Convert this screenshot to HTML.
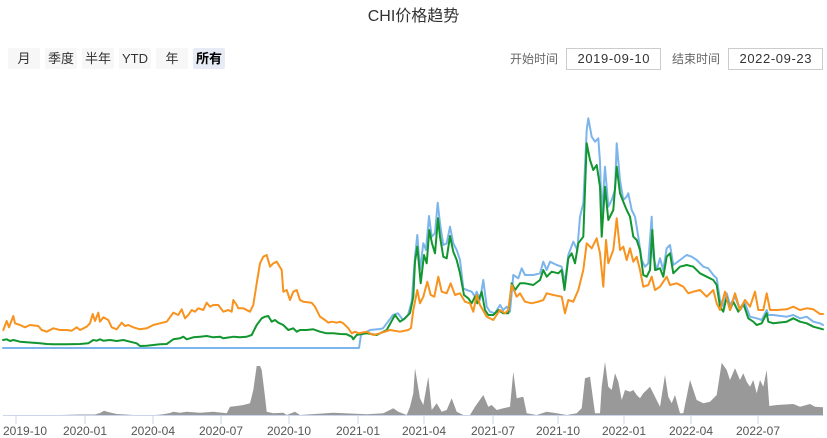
<!DOCTYPE html>
<html><head><meta charset="utf-8"><style>
html,body{margin:0;padding:0;background:#fff;}
body{width:827px;height:438px;overflow:hidden;position:relative;}
svg{position:absolute;left:0;top:0;}
text{font-family:"Liberation Sans","Noto Sans CJK SC",sans-serif;}
</style></head><body>
<svg width="827" height="438" viewBox="0 0 827 438" xmlns="http://www.w3.org/2000/svg">
<text x="413.5" y="21" text-anchor="middle" font-size="16" fill="#333">CHI价格趋势</text>
<g font-size="13" text-anchor="middle" fill="#333">
<rect x="8" y="48" width="32" height="21" rx="2" fill="#f7f7f7"/><text x="24" y="63">月</text>
<rect x="45" y="48" width="32" height="21" rx="2" fill="#f7f7f7"/><text x="61" y="63">季度</text>
<rect x="82" y="48" width="32" height="21" rx="2" fill="#f7f7f7"/><text x="98" y="63">半年</text>
<rect x="119" y="48" width="32" height="21" rx="2" fill="#f7f7f7"/><text x="135" y="63">YTD</text>
<rect x="156" y="48" width="32" height="21" rx="2" fill="#f7f7f7"/><text x="172" y="63">年</text>
<rect x="193" y="48" width="32" height="21" rx="2" fill="#e6ebf5"/><text x="209" y="63" font-weight="bold" fill="#000">所有</text>
</g>
<g font-size="12" fill="#666">
<text x="510" y="63">开始时间</text>
<text x="672" y="63">结束时间</text>
</g>
<rect x="566.5" y="48.5" width="94" height="21" fill="#fff" stroke="#ccc"/>
<rect x="728.5" y="48.5" width="94" height="21" fill="#fff" stroke="#ccc"/>
<g font-size="13" fill="#333" text-anchor="middle">
<text x="613.5" y="63" textLength="72" lengthAdjust="spacing">2019-09-10</text>
<text x="775.5" y="63" textLength="72" lengthAdjust="spacing">2022-09-23</text>
</g>

<path fill="#999" d="M3,415.5 L30,415.3 L60,415 L80,414.5 L95,414.5 L100,413 L104,410.7 L108,412 L116.7,414 L133.3,415 L153.3,415.3 L163.3,414.3 L170,413 L173.3,411.7 L180,412.7 L186.7,411.7 L200,412.7 L213.3,411.7 L226.7,413.3 L230,406.7 L236.7,406 L243.3,405 L250,403.3 L253.3,390 L256.7,366 L260,366 L261.7,370 L265,396.7 L266.7,411.7 L273.3,413.3 L283.3,412.7 L286.7,415 L295,411.7 L300,415 L333.3,412.7 L366.7,414.3 L383.3,413.3 L393.3,408.3 L398.3,411.7 L406.7,415 L410,406.7 L413.3,393.3 L415,368.3 L420,398.3 L423.3,405 L428.3,376.7 L431.7,410 L436.7,403.3 L441.7,411.7 L446.7,410 L451.7,398.3 L456.7,411.7 L463.3,415 L470,415 L475,406.7 L483.3,395 L488.3,406.7 L491.7,405 L496.7,410 L503.3,408.3 L510,406.7 L513.3,371.7 L516.7,398.3 L523.3,396.7 L526.7,413.3 L536.7,415 L546.7,411.7 L556.7,413.3 L566.7,415 L576.7,413.3 L581.7,408.3 L585,378.3 L590,376.7 L595,413.3 L600,413.3 L601.7,386.7 L605,361.7 L608.3,386.7 L611.7,390 L615,373.3 L618.3,381.7 L621.7,400 L625,390 L630,391.7 L633.3,390 L636.7,395 L640,398.3 L643.3,393.3 L646.7,390 L650,386.7 L655,396.7 L660,406.7 L665,375 L668.3,396.7 L671.7,403.3 L675,395 L680,413.3 L683.3,413.3 L690,380 L696.7,400 L703.3,403.3 L710,401.7 L716.7,395 L721.7,362.7 L726.7,370 L730,380 L735,368.3 L740,380 L743.3,373.3 L746.7,381.7 L750,386.7 L753.3,380 L756.7,393.3 L760,380 L763.3,386.7 L766.7,370 L769.3,406 L776.7,405 L793.3,404 L800,406.7 L810,404 L815,406.7 L823,407.3 L823,415.5 Z"/>

<line x1="3" y1="415.5" x2="823" y2="415.5" stroke="#ccd6eb" stroke-width="1"/>
<g stroke="#ccd6eb" stroke-width="1">
<line x1="16" y1="415" x2="16" y2="424"/><line x1="85" y1="415" x2="85" y2="424"/><line x1="153" y1="415" x2="153" y2="424"/><line x1="221" y1="415" x2="221" y2="424"/><line x1="289" y1="415" x2="289" y2="424"/><line x1="358" y1="415" x2="358" y2="424"/><line x1="424" y1="415" x2="424" y2="424"/><line x1="493" y1="415" x2="493" y2="424"/><line x1="558" y1="415" x2="558" y2="424"/><line x1="624" y1="415" x2="624" y2="424"/><line x1="691" y1="415" x2="691" y2="424"/><line x1="758" y1="415" x2="758" y2="424"/>
</g>
<g font-size="12" fill="#555" text-anchor="middle">
<text x="3" y="435" text-anchor="start">2019-10</text>
<text x="85" y="435">2020-01</text>
<text x="153" y="435">2020-04</text>
<text x="221" y="435">2020-07</text>
<text x="289" y="435">2020-10</text>
<text x="358" y="435">2021-01</text>
<text x="424" y="435">2021-04</text>
<text x="493" y="435">2021-07</text>
<text x="558" y="435">2021-10</text>
<text x="624" y="435">2022-01</text>
<text x="691" y="435">2022-04</text>
<text x="758" y="435">2022-07</text>
</g>

<g fill="none" stroke-width="2" stroke-linejoin="round" stroke-linecap="round">
<polyline stroke="#7cb5ec" points="3,348 359,348 361,335 370,330 380,329 383,328.3 393,315 398,313.3 403,320 408,315 411.7,301.7 415,256.7 417.3,235 420,270 423.3,243.3 426,250 429,216 431.7,236.7 435,233.3 437.7,202.7 440,223.3 443.3,245 446.7,243.3 450,226.7 453.3,243.3 456.7,250 460,260 463.3,288.3 466.7,290 471.7,291.7 475,296.7 476.7,291.7 480,300 483.3,280 486.7,306.7 490,311.7 495,313.3 500,305 503.3,310 506.7,306.7 510,311.7 513.3,275 518.3,278.3 521.7,268.3 525,275 533.3,275 540,273.3 543.3,261.7 546.7,270 550,261.7 556.7,265 561.7,266.7 565,283.3 568.3,255 573.3,241.7 577.3,250 580,216.7 583.3,203.3 586.7,130 588.3,118.3 591.7,136.7 595,141.7 598.3,138.3 600,161.7 601.7,216.7 605,166.7 608.3,206.7 611.7,200 615,190 616.7,143.3 620,180 623.3,200 626.7,196.7 628.3,193.3 631.7,210 635,216.7 638.3,236.7 641.7,260 645,266.7 648.3,263.3 651.7,216.7 653.3,256.7 656.7,270 660,258.3 663.3,270 666.7,248.3 670,245 673.3,265 680,260 686.7,255 691.7,256.7 696.7,260 703.3,266.7 708.3,268.3 713.3,275 716.7,278.3 720,300 723.3,306.7 726.7,293.3 730,305 735,296.7 740,310 745,303.3 750,316.7 756.7,318.3 761.7,320 766.7,310 768.3,315 773.3,315 786.7,316.7 793.3,315 800,318.3 806.7,316.7 813.3,321.7 820,323.3 823,325"/>
<polyline stroke="#12962f" points="3,340 6.7,339.3 10,341 13.3,340 20,341.7 26.7,342.3 33.3,342.7 40,343.3 46.7,344 53.3,344.3 66.7,344.3 80,344 88.3,343.3 93.3,340 96.7,340.7 100,339.3 103.3,340.7 110,340 116.7,341 123.3,340 130,341.7 136.7,343.3 140,346 146.7,345.7 153.3,345 160,344.3 166.7,344 170,341.7 173.3,339.3 180,338.3 183.3,336.7 186.7,339.3 193.3,337.3 200,336.7 206.7,336 213.3,337.3 220,336.7 223.3,338.3 230,337.3 233.3,336.7 240,337.3 246.7,336.7 251.7,335 256.7,325 261.7,318.3 265,316.7 268.3,316 271.7,321.7 275,320 278.3,322.7 283.3,325 288.3,330 293.3,328.3 296.7,331.7 300,330 306.7,330 313.3,329.3 320,331.7 326.7,333.3 333.3,333.3 340,334 346.7,334.3 351.7,336.7 353.3,339.3 356.7,335 360,334.3 366.7,333.3 376.7,335 386.7,330 395,315 400,321.7 405,318.3 410,313 413.3,296.7 415,261.7 417.3,246.7 420.7,283.3 424,255 426.7,263.3 429.3,230 432,243.3 435,253.3 438,218.3 440,236.7 443.3,256.7 446.7,258.3 450,236 453.3,251.7 456.7,260 460,273.3 464,295 468.3,298.3 471.7,303.3 475,296.7 477.3,303.3 481.7,291.7 485,310 488.3,315 493.3,315 498.3,310 503.3,313.3 508.3,313.3 511.7,283.3 515,290 520,283.3 525,283.3 533.3,285 540,280 543.3,270 546.7,276.7 551.7,271.7 558.3,273.3 561.7,270 564.5,290 568.3,258.3 571.7,253.3 575,263.3 578.3,243.3 583.3,236.7 586.7,143.3 590,160 593.3,170 596.7,165 600,186.7 601.7,236.7 605,186.7 608.3,220 613.3,210 616.7,166.7 620,193.3 623.3,201.7 626.7,210 630,216.7 633.3,236.7 636.7,240 640,250 643.3,275 646.7,276.7 650,270 652.3,230 655,270 660,268.3 663.3,276.7 666.7,256.7 670,253.3 673.3,273.3 680,266.7 686.7,265 693.3,266.7 700,273.3 706.7,276.7 713.3,280 716.7,285 720,306.7 723.3,311.7 726.7,296.7 730,310 733.3,301.7 738.3,311.7 743.3,303.3 748.3,318.3 753.3,321.7 756.7,325 761.7,323.3 766.7,313.3 768.3,321.7 773.3,323.3 786.7,321.7 793.3,318.3 800,321.7 806.7,323.3 813.3,326.7 823,329.3"/>
<polyline stroke="#f7931e" points="3.3,330 6.7,321 9,327.3 13.3,316 15,323.3 20,325 25,327.3 30,325 38.3,326 41.7,330 46.7,331.7 53.3,328.3 60,330 66.7,330 71.7,330.7 76.7,327.3 80,330 86.7,326.7 90,323.3 92.7,314 95,321 98.3,312.7 100,321.7 103.3,317.3 108.3,320 111.7,327.3 116.7,329.3 121.7,322.7 125,326 128.3,325 133.3,327.3 140,329.3 146.7,328.3 153.3,325 160,323.3 166.7,321.7 173.3,312.7 178.3,315 181.7,309.3 185,318.3 188.3,315 191.7,310 195,311.7 198.3,308.3 203.3,310 206.7,302.7 210,306.7 213.3,305 218.3,305 223.3,311.7 228.3,310 231.7,311.7 233.3,300 236.7,305 238.3,308.3 243.3,308.3 250,311.7 253.3,305 256.7,283.3 260,263.3 263.3,256.7 266.7,255 270,266.7 273.3,263.3 276.7,261.7 281.7,270 283.3,291.7 286.7,290 290,300 293.3,291.7 296.7,290 300,300 303.3,301.7 311.7,302.7 315,306.7 320,316.7 325,320 328.3,322.7 331.7,321.7 336.7,322.7 340,321.7 343.3,323.3 348.3,328.3 351.7,333.3 355,331.7 358.3,333.3 360,333 366.7,331.7 373.3,335 380,333.3 390,330 400,331.7 408.3,330 411,328 413.3,310 417.3,290 420,303.3 423.3,296.7 427.3,281.7 430.7,295 434.3,296.7 438.3,276.7 441.7,291.7 446.7,293.3 450.7,283.3 455,295 460,293.3 465,301.7 470,303.3 473.3,311.7 476.7,295 480,305 486.7,316.7 493.3,320 500,310 505,313.3 508.3,310 511.7,285 516.7,296.7 520,293.3 525,301.7 531.7,303.3 538.3,301.7 543.3,300 546.7,293.3 553.3,295 561.7,296.7 565,313.3 568.3,300 573.3,301.7 578.3,290 580,283.3 583.3,270 586.7,243.3 591.7,248.3 596.7,238.3 600,253.3 603.3,286.7 606,240 608.3,263.3 613.3,250 616.7,218.3 620,250 623.3,246.7 626.7,260 630,248.3 633.3,261.7 636.7,256.7 640,270 643.3,286.7 648.3,285 651.7,276.7 655,290 660,286.7 663.3,281.7 666.7,276.7 670,285 676.7,283.3 683.3,286.7 688.3,293.3 693.3,291.7 700,290 706.7,296.7 713.3,290 716.7,303.3 720,310 725,291.7 730,310 735,293.3 740,310 745,300 750,306.7 755,291.7 758.3,310 763.3,310 766.7,293.3 770,310 776.7,310 786.7,309.3 793.3,306.7 800,310 806.7,308.3 813.3,309.3 820,314 823,314"/>
</g>
</svg>
</body></html>
